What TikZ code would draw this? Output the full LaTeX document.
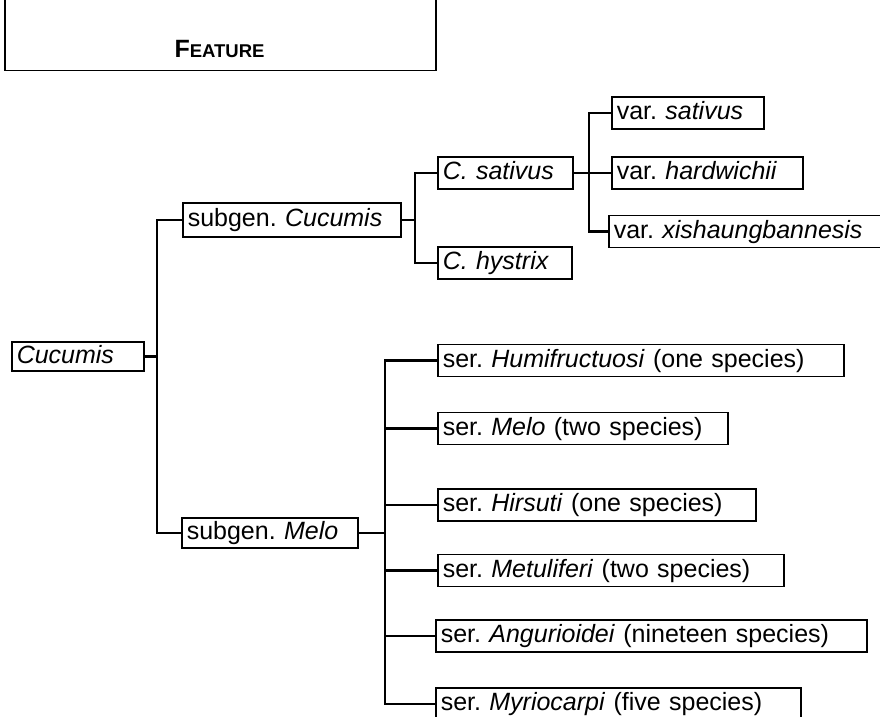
\documentclass[tikz,border=0pt]{standalone}
\usepackage{fontspec}
\setmainfont{Liberation Sans}
\frenchspacing

\begin{document}
\begin{tikzpicture}[
  x=1pt, y=-1pt,
  taxon/.style={draw, line width=1.5pt, anchor=west, align=left,
    inner xsep=5pt, inner ysep=0pt, minimum height=32pt,
    text height=18pt, text depth=5pt, text width=#1,
    font=\fontsize{25}{30}\selectfont},
  link/.style={line width=2.2pt}
]
\useasboundingbox (0,0) rectangle (880,716);

% header panel
\node[draw, line width=1.5pt, anchor=south west, minimum width=431pt,
  minimum height=120pt] (panel) at (4,71) {};
\node[anchor=base, inner sep=0pt, font=\bfseries] (feature) at (219.5,57)
  {\fontsize{25}{30}\selectfont F\fontsize{18.5}{22}\selectfont EATURE};

% genus and subgenera
\node[taxon=122pt, minimum height=29pt] (cucumis) at (11,356.5) {\textit{Cucumis}};
\node[taxon=208pt, minimum height=34pt] (sc) at (182,220) {subgen. \textit{Cucumis}};
\node[taxon=166pt, minimum height=30pt] (sm) at (181,533) {subgen. \textit{Melo}};

% species and varieties
\node[taxon=125pt] (cs) at (437,173) {\textit{C. sativus}};
\node[taxon=124pt] (ch) at (437,263) {\textit{C. hystrix}};
\node[taxon=142pt] (vs) at (611,113) {var. \textit{sativus}};
\node[taxon=181pt] (vh) at (611,173) {var. \textit{hardwichii}};
\node[taxon=262pt] (vx) at (608,231.5) {var. \textit{xishaungbannesis}};

% series
\node[taxon=396pt] (humi) at (437,360.5) {ser. \textit{Humifructuosi} (one species)};
\node[taxon=280pt] (melo) at (437,428.5) {ser. \textit{Melo} (two species)};
\node[taxon=308pt] (hirs) at (437,505) {ser. \textit{Hirsuti} (one species)};
\node[taxon=336pt] (metu) at (437,570.5) {ser. \textit{Metuliferi} (two species)};
\node[taxon=421pt] (angu) at (435,636) {ser. \textit{Angurioidei} (nineteen species)};
\node[taxon=355pt] (myri) at (435,704) {ser. \textit{Myriocarpi} (five species)};

% junctions
\coordinate (j0) at (157,0);
\coordinate (j1) at (415,0);
\coordinate (j2) at (589,0);
\coordinate (j3) at (385,0);

\draw[link] (cucumis.east) -- (j0 |- cucumis.east);
\draw[link] (sc.west) -| (j0 |- cucumis.east) |- (sm.west);

\draw[link] (sc.east) -- (j1 |- sc.east);
\draw[link] (cs.west) -| (j1 |- sc.east) |- (ch.west);

\draw[link] (cs.east) -- (vh.west);
\draw[link] (vs.west) -| (j2 |- vh.west) |- (vx.west);

\draw[link] (sm.east) -- (j3 |- sm.east);
\draw[link] (humi.west) -| (j3 |- myri.west) -- (myri.west);
\foreach \n in {melo,hirs,metu,angu}
  \draw[link] (j3 |- \n.west) -- (\n.west);
\end{tikzpicture}
\end{document}
